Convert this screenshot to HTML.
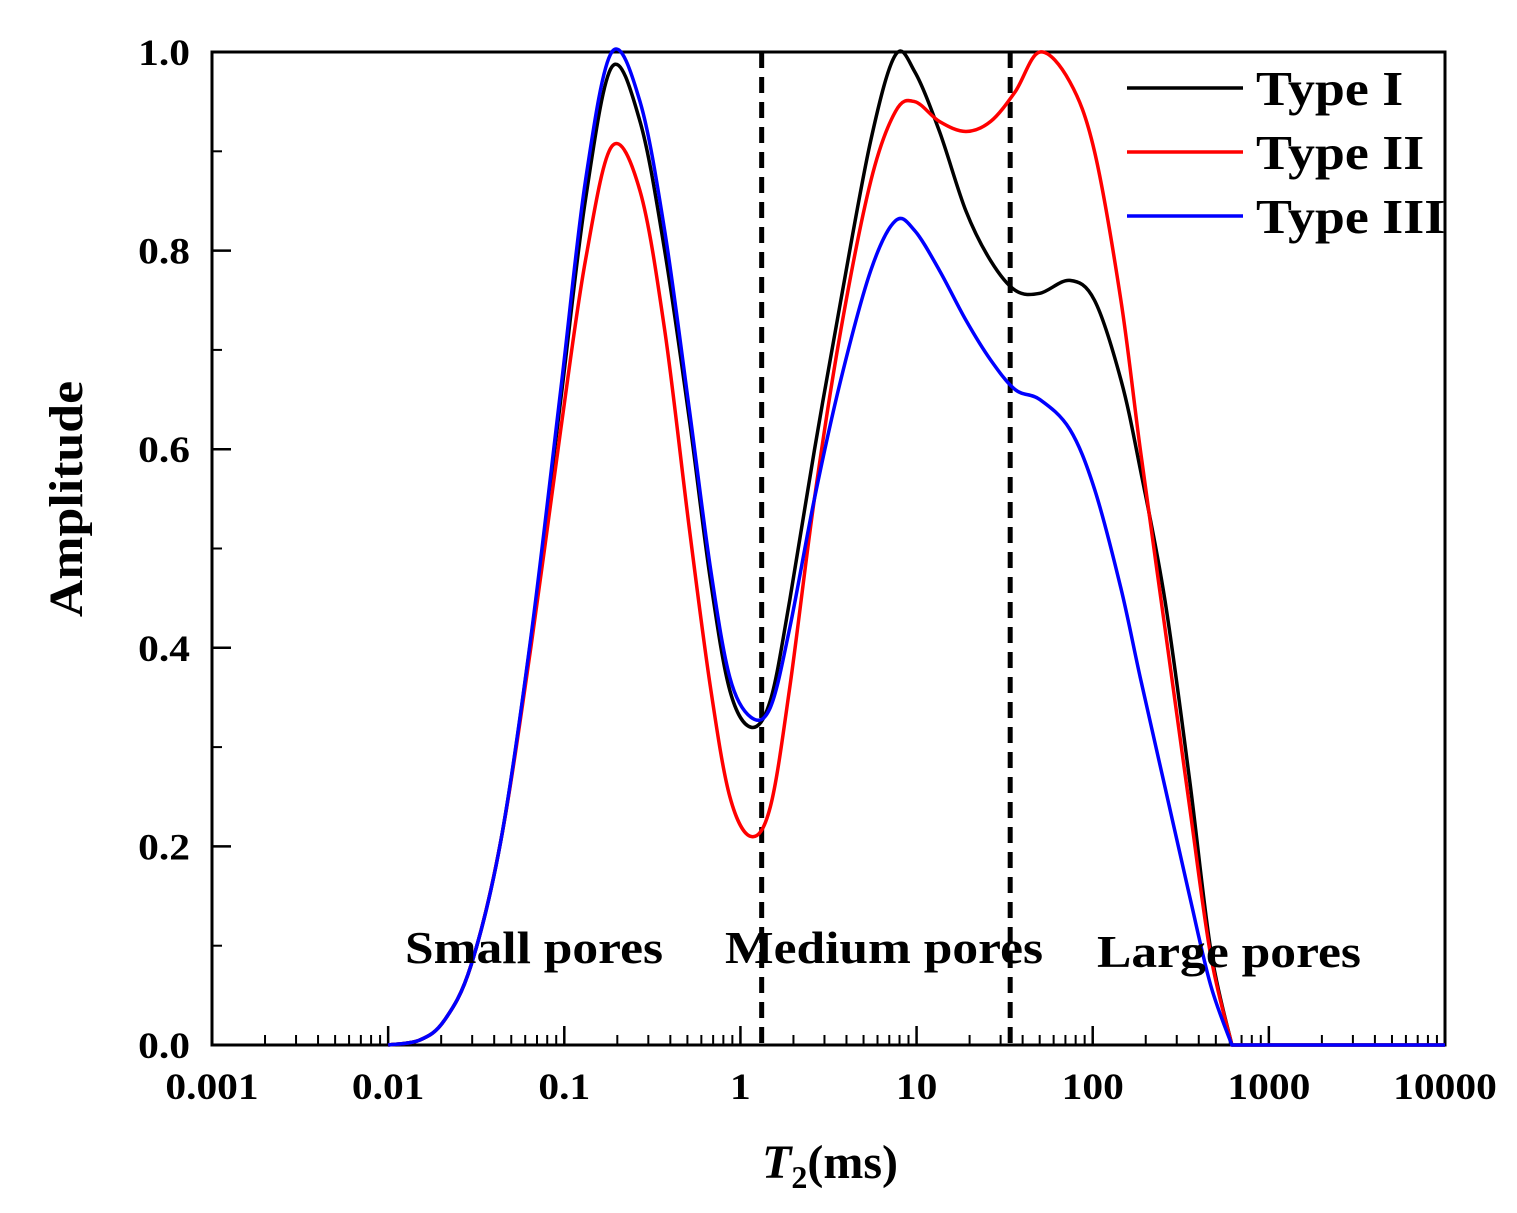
<!DOCTYPE html>
<html><head><meta charset="utf-8"><style>
body{margin:0;background:#fff}
svg text{font-family:"Liberation Serif",serif;font-weight:bold}
</style></head><body>
<svg id="chart" width="1517" height="1208" viewBox="0 0 1517 1208" xmlns="http://www.w3.org/2000/svg">
<g id="plot"></g>
</svg>
<script>
const logT2 = [-2.0,-1.82,-1.68,-1.53,-1.36,-1.19,-1.02,-0.88,-0.73,-0.57,-0.43,-0.29,-0.17,-0.06,0.06,0.17,0.28,0.42,0.57,0.74,0.88,0.99,1.13,1.28,1.42,1.56,1.70,1.87,2.01,2.16,2.27,2.41,2.55,2.67,2.79];
const typeI = [0,0.005,0.025,0.08,0.206,0.408,0.65,0.851,0.985,0.93,0.80,0.63,0.468,0.357,0.32,0.347,0.448,0.599,0.75,0.911,0.997,0.98,0.92,0.84,0.79,0.76,0.757,0.77,0.75,0.67,0.58,0.448,0.267,0.096,0];
const typeII = [0,0.005,0.025,0.08,0.206,0.40,0.62,0.79,0.905,0.86,0.72,0.52,0.36,0.25,0.21,0.24,0.36,0.55,0.72,0.87,0.94,0.95,0.93,0.92,0.93,0.96,1.0,0.97,0.90,0.75,0.60,0.42,0.24,0.09,0];
const typeIII = [0,0.005,0.025,0.08,0.206,0.41,0.66,0.87,1.0,0.95,0.82,0.64,0.48,0.37,0.33,0.34,0.42,0.55,0.67,0.78,0.83,0.82,0.78,0.73,0.69,0.66,0.65,0.62,0.56,0.46,0.37,0.26,0.15,0.06,0];
const xTickLabels = ["0.001","0.01","0.1","1","10","100","1000","10000"];
const yTickLabels = ["0.0","0.2","0.4","0.6","0.8","1.0"];
const boundaries = [1.32, 34];
const seriesNames = ["Type I","Type II","Type III"];

const NS="http://www.w3.org/2000/svg";
const L=212,R=1445,T=52,B=1045;
const xs=lg=>L+(lg+3)/7*(R-L);
const ys=v=>B-v*(B-T);
const g=document.getElementById('plot');
function el(tag,attrs,parent){const e=document.createElementNS(NS,tag);for(const k in attrs)e.setAttribute(k,attrs[k]);(parent||g).appendChild(e);return e;}
function stretch(t,f){const w=t.getComputedTextLength();t.setAttribute('textLength',w*f);t.setAttribute('lengthAdjust','spacingAndGlyphs');}

const frame=el('rect',{x:L,y:T,width:R-L,height:B-T,fill:'none',stroke:'#000','stroke-width':3});



xTickLabels.forEach((lab,i)=>{
  const lg=i-3,x=xs(lg);
  if(i>0&&i<xTickLabels.length-1){const t=el('line',{x1:x,x2:x,y1:B,y2:B-19,stroke:'#000','stroke-width':2.5});
  
  }
  const tx=el('text',{x:x,y:B+54,'font-size':37,'text-anchor':'middle'});tx.textContent=lab;
  
  
  stretch(tx,1.12);
  if(i<xTickLabels.length-1)for(let m=2;m<10;m++){const mx=xs(lg+Math.log10(m));
    const t=el('line',{x1:mx,x2:mx,y1:B,y2:B-10,stroke:'#000','stroke-width':2});
    
    }
});
yTickLabels.forEach((lab,i)=>{
  const v=i*0.2,y=ys(v);
  if(i>0&&i<5){const t=el('line',{x1:L,x2:L+19,y1:y,y2:y,stroke:'#000','stroke-width':2.5});
  
  }
  if(i<5){const my=ys(v+0.1);const t=el('line',{x1:L,x2:L+10,y1:my,y2:my,stroke:'#000','stroke-width':2});
  
  }
  const tx=el('text',{x:L-22,y:y+13,'font-size':37,'text-anchor':'end'});tx.textContent=lab;
  
  
  stretch(tx,1.12);
});
const yt=el('text',{x:0,y:0,'font-size':48,'text-anchor':'middle',transform:'translate(82,499) rotate(-90)'});yt.textContent='Amplitude';


stretch(yt,1.08);
const xt=el('text',{x:830,y:1178,'font-size':48,'text-anchor':'middle'});
xt.innerHTML='<tspan font-style="italic">T</tspan><tspan font-size="32" dy="10">2</tspan><tspan dy="-10">(ms)</tspan>';



boundaries.forEach(b=>{const x=xs(Math.log10(b));
  const d=el('line',{x1:x,x2:x,y1:T,y2:B,stroke:'#000','stroke-width':5,'stroke-dasharray':'16,9'});
  
  });

function smoothPath(pts){let d=`M${pts[0][0]},${pts[0][1]}`;
  for(let i=0;i<pts.length-1;i++){const p0=pts[Math.max(0,i-1)],p1=pts[i],p2=pts[i+1],p3=pts[Math.min(pts.length-1,i+2)];
    const c1=[p1[0]+(p2[0]-p0[0])/6,p1[1]+(p2[1]-p0[1])/6],c2=[p2[0]-(p3[0]-p1[0])/6,p2[1]-(p3[1]-p1[1])/6];
    d+=` C${c1[0]},${c1[1]} ${c2[0]},${c2[1]} ${p2[0]},${p2[1]}`;}
  return d;}
const colors=['#000','#f00','#00f'];
[typeI,typeII,typeIII].forEach((s,k)=>{
  const pts=logT2.map((lg,i)=>[xs(lg),ys(s[i])]);
  let d=smoothPath(pts)+` L${xs(4)},${ys(0)}`;
  const p=el('path',{d:d,fill:'none',stroke:colors[k],'stroke-width':3.5,'stroke-linejoin':'round'});
  
  
});

[['Small pores',405,963,258],['Medium pores',725,963,318],['Large pores',1097,967,264]].forEach(a=>{
  const t=el('text',{x:a[1],y:a[2],'font-size':46,textLength:a[3],lengthAdjust:'spacingAndGlyphs'});t.textContent=a[0];
  
  });

seriesNames.forEach((n,k)=>{const y=88+k*64;
  const l=el('line',{x1:1127,x2:1243,y1:y,y2:y,stroke:colors[k],'stroke-width':3.5});
  
  
  const t=el('text',{x:1256,y:y+17,'font-size':49});t.textContent=n;
  
  
  stretch(t,1.1);});
</script>
</body></html>
